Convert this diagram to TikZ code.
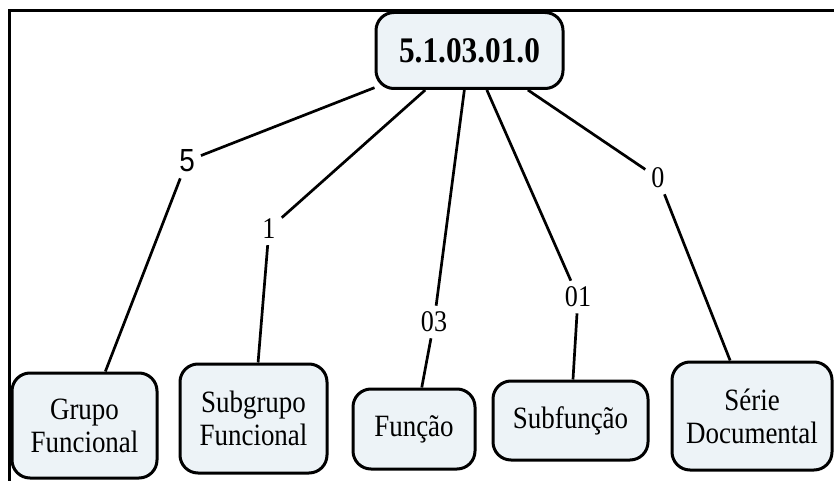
\documentclass[tikz,border=0pt]{standalone}
\usepackage{fontspec}
\setmainfont{Liberation Serif}[FakeStretch=0.87]
\newfontfamily\digitsans{Liberation Sans}[FakeStretch=0.87]
\definecolor{boxfill}{HTML}{EDF3F7}
\begin{document}
\begin{tikzpicture}[x=1pt,y=-1pt,
  box/.style={draw=black, fill=boxfill, line width=3pt, rounded corners=18pt,
    inner sep=0pt, align=center, font=\fontsize{31}{33}\selectfont},
  rootbox/.style={box, font=\fontsize{36}{38}\selectfont\bfseries},
  codelbl/.style={inner sep=6pt, font=\fontsize{30}{31}\selectfont},
  link/.style={draw=black, line width=2.7pt},
  frame/.style={draw=black, line width=3pt}]
\useasboundingbox (0,0) rectangle (834,481);

% outer frame (top and left rules)
\draw[frame] (834,11) -- (9,11) -- (9,481);

% classification code
\node[rootbox, minimum width=187pt, minimum height=76pt] (root) at (469.5,50.5) {5.1.03.01.0};

% hierarchy levels
\node[box, minimum width=145pt, minimum height=105pt] (grupo) at (84.5,425.5) {Grupo\\Funcional};
\node[box, minimum width=147pt, minimum height=109pt] (subgrupo) at (253.5,418.5) {Subgrupo\\Funcional};
\node[box, minimum width=122pt, minimum height=80pt] (funcao) at (414,429) {Função};
\node[box, minimum width=155pt, minimum height=79pt] (subfuncao) at (570.5,420.5) {Subfunção};
\node[box, minimum width=160pt, minimum height=108pt] (serie) at (752,416) {Série\\Documental};

% code digits on each branch
\node[codelbl, font=\fontsize{32}{33}\selectfont\digitsans] (l5) at (187,161) {5};
\node[codelbl] (l1) at (269,229) {1};
\node[codelbl] (l03) at (434,322) {03};
\node[codelbl] (l01) at (578,297) {01};
\node[codelbl] (l0) at (658,178) {0};

% branches
\draw[link] (root) -- (l5);  \draw[link] (l5) -- (grupo);
\draw[link] (root) -- (l1);  \draw[link] (l1) -- (subgrupo);
\draw[link] (root) -- (l03); \draw[link] (l03) -- (funcao);
\draw[link] (root) -- (l01); \draw[link] (l01) -- (subfuncao);
\draw[link] (root) -- (l0);  \draw[link] (l0) -- (serie);
\end{tikzpicture}
\end{document}
